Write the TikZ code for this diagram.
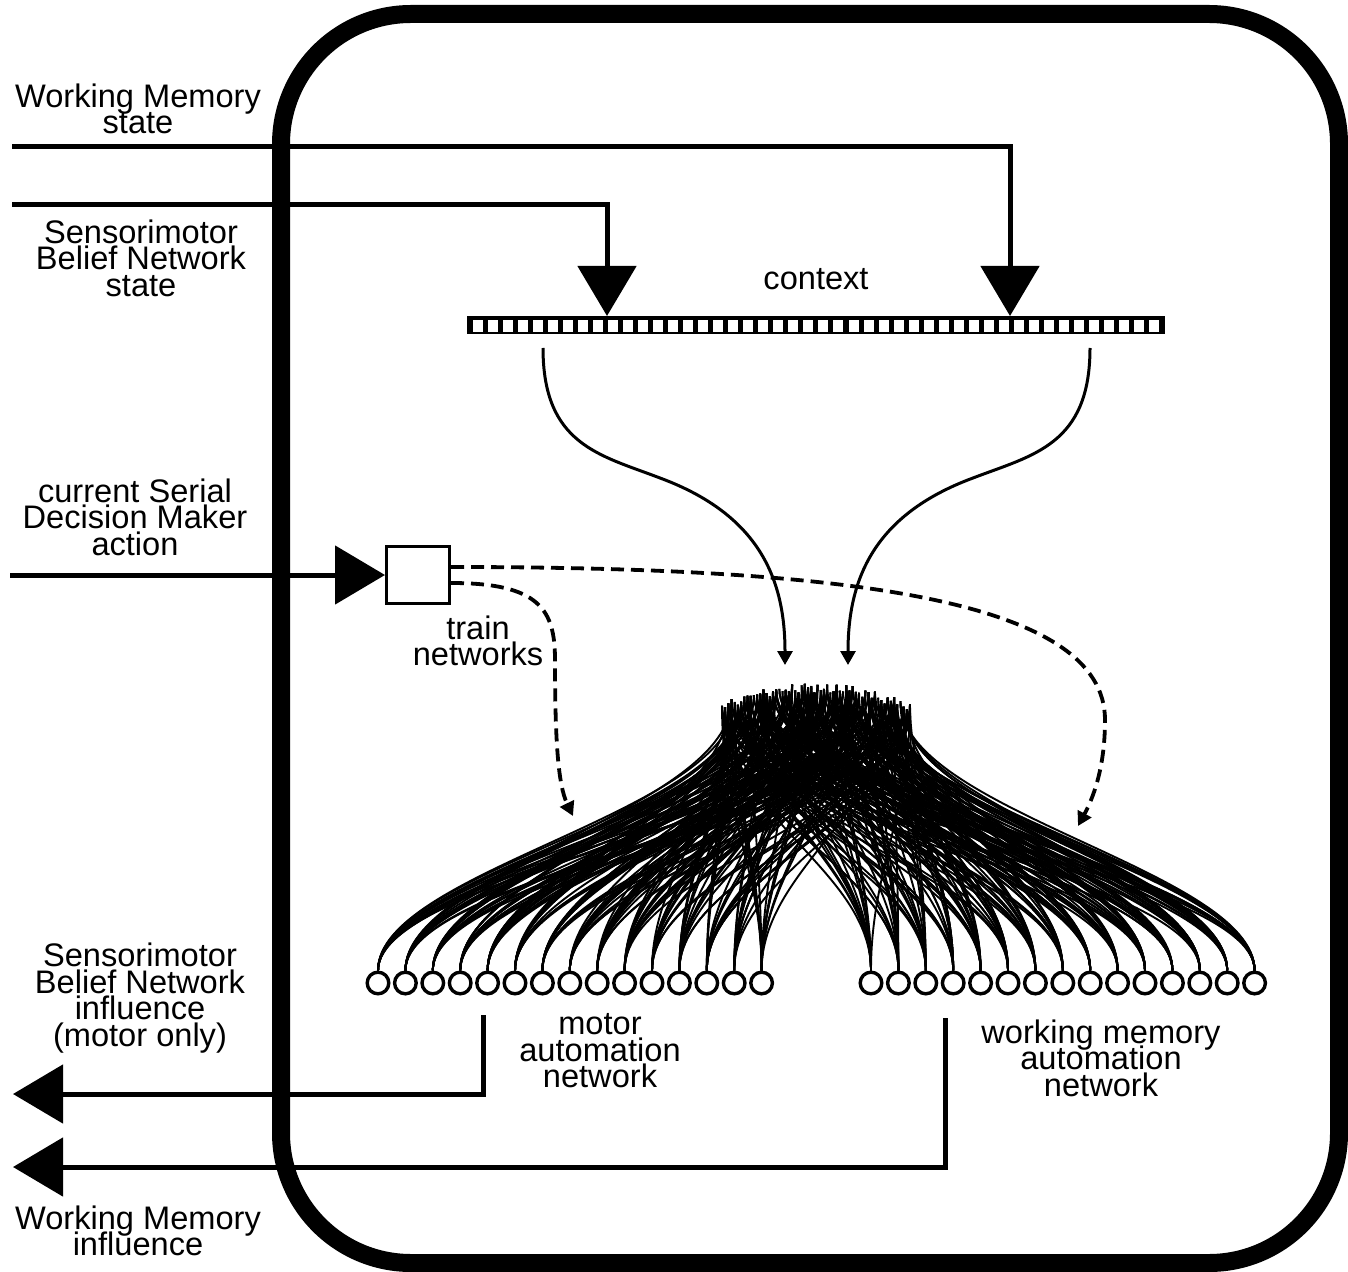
\documentclass[tikz,border=0pt]{standalone}
\usepackage{fontspec}
\setmainfont{Liberation Sans}
\usetikzlibrary{arrows.meta}
% fixed line pitch even when descenders meet ascenders
\newcommand\tightlabel{\fontsize{16.3}{13.25}\selectfont\lineskiplimit=-50pt\relax\lineskip=0pt\relax}
\begin{document}
\begin{tikzpicture}[x=0.5pt,y=-0.5pt,
  every node/.style={font=\tightlabel, align=center, inner sep=0pt},
  frame/.style={line width=9pt, rounded corners=65pt},
  signal/.style={line width=2.5pt},
  bighead/.style={-{Triangle[length=25pt,width=29pt]}},
  flow/.style={line width=1.5pt, -{Triangle[length=7pt,width=7.5pt]}},
  train/.style={line width=1.9pt, dash pattern=on 6.5pt off 3.5pt, -{Triangle[length=7pt,width=7.5pt]}},
  wire/.style={line width=0.95pt},
  neuron/.style={circle, draw, line width=1.7pt, fill=white, minimum size=10.8pt, inner sep=0pt},
  actbox/.style={draw, line width=1.5pt, fill=white, minimum width=31.5pt, minimum height=28.5pt},
  ctxbar/.style={fill=black, minimum width=349pt, minimum height=9pt}]

% canvas
\fill[white] (0,0) rectangle (1348,1272);
\useasboundingbox (0,0) rectangle (1348,1272);

% module boundary
\draw[frame] (281,14) rectangle (1339,1263);

% context layer
\node[ctxbar] (ctx) at (816,325) {};
\foreach \k in {0,...,45}
  \fill[white] ({472.5+\k*15.04},320) rectangle ++(10,12);
\node (ctxlbl) at (816,279) {context};

% inputs to context
\coordinate (wmIn) at (12,147);
\coordinate (smIn) at (12,205);
\coordinate (ctxA) at (607,316);
\coordinate (ctxB) at (1010,316);
\draw[signal,bighead] (wmIn) -| (ctxB);
\draw[signal,bighead] (smIn) -| (ctxA);
\node (wmState) at (138,109) {Working Memory\\state};
\node (smState) at (141,258) {Sensorimotor\\Belief Network\\state};

% context feeding the automation networks
\coordinate (ctxL) at (543,348);
\coordinate (ctxR) at (1090,348);
\coordinate (hidL) at (785,665);
\coordinate (hidR) at (848,665);
\draw[flow] (ctxL) .. controls (543,445) and (600,455) .. (660,478)
                   .. controls (760,515) and (785,580) .. (hidL);
\draw[flow] (ctxR) .. controls (1090,445) and (1033,455) .. (973,478)
                   .. controls (873,515) and (848,580) .. (hidR);

% serial decision maker action
\node[actbox] (act) at (418,575) {};
\coordinate (actIn) at (10,575);
\draw[signal,bighead] (actIn) -- (act.west);
\node (sdm) at (135,517) {current Serial\\Decision Maker\\action};
\node (trainlbl) at (478,641) {train\\networks};

% training signals
\coordinate (wmTrain) at (1078,826);
\coordinate (motTrain) at (573,816);
\draw[train] ([yshift=4pt]act.east) .. controls (850,567) and (1105,600) .. (1105,720)
             .. controls (1105,770) and (1092,800) .. (wmTrain);
\draw[train] ([yshift=-4pt]act.east) .. controls (540,583) and (555,610) .. (555,660)
             .. controls (555,740) and (558,785) .. (motTrain);

% hidden layer attachment points
\pgfmathsetseed{4242}
\foreach \j in {1,...,60} {
  \pgfmathsetmacro\tx{722+188*(\j-1)/59}
  \pgfmathsetmacro\ty{683+20*((\tx-816)/94)^2+10*rnd}
  \coordinate (h\j) at (\tx,\ty);
}

% output units
\foreach \i in {0,...,14} {
  \node[neuron] (m\i) at ({378+27.4*\i},983) {};
  \node[neuron] (w\i) at ({871+27.4*\i},983) {};
}

% connections from the hidden layer
\foreach \side in {m,w}
  \foreach \i in {0,...,14}
    \foreach \k in {1,...,12} {
      \pgfmathtruncatemacro\j{random(1,60)}
      \draw[wire] (\side\i.north) .. controls +(0,-100) and +(0,110) .. (h\j);
    }

% network labels
\node (motLbl) at (600,1051) {motor\\automation\\network};
\node (wmLbl) at (1101,1058) {working memory\\automation\\network};

% outputs
\coordinate (motOut) at (483,1015);
\coordinate (smOut) at (13,1094);
\coordinate (wmOut) at (945,1018);
\coordinate (wmOutEnd) at (13,1167);
\draw[signal,bighead] (motOut) |- (smOut);
\draw[signal,bighead] (wmOut) |- (wmOutEnd);
\node (smInfl) at (140,998) {Sensorimotor\\Belief Network\\influence\\(motor only)};
\node (wmInfl) at (138,1231) {Working Memory\\influence};
\end{tikzpicture}
\end{document}
